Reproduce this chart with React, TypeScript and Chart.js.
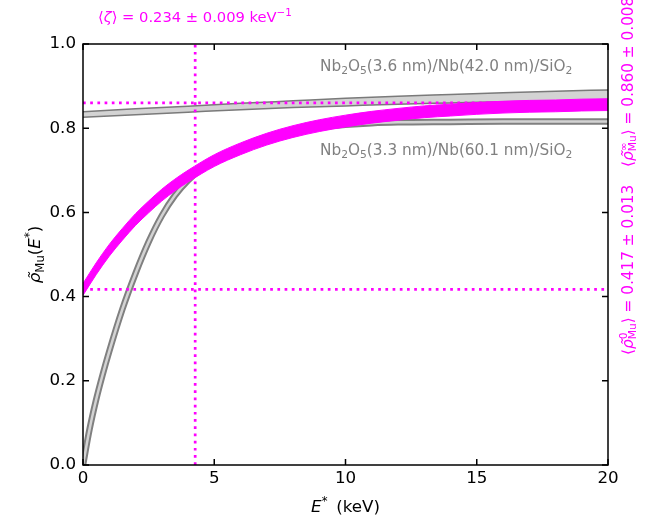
import React, { useEffect, useRef } from "react";
import { Chart, registerables } from "chart.js";

Chart.register(...registerables);

// Fitted muonium yield (band) versus implantation energy E* (keV)
const fitEnergy = [0, 0.5, 1, 1.5, 2, 2.5, 3, 3.5, 4, 5, 6, 7, 8, 9, 10, 11, 12, 13, 14, 15, 16, 17, 18, 19, 20];
const fitLow = [0.403, 0.452, 0.496, 0.534, 0.569, 0.599, 0.627, 0.651, 0.672, 0.709, 0.737, 0.76, 0.778, 0.792, 0.803, 0.812, 0.819, 0.825, 0.829, 0.833, 0.836, 0.838, 0.839, 0.841, 0.842];
const fitHigh = [0.431, 0.48, 0.524, 0.562, 0.597, 0.627, 0.655, 0.679, 0.7, 0.737, 0.765, 0.788, 0.806, 0.82, 0.831, 0.84, 0.847, 0.853, 0.857, 0.861, 0.864, 0.866, 0.867, 0.869, 0.87];

// Nb2O5(3.3 nm)/Nb(60.1 nm)/SiO2 sample
const thinEnergy = [0, 0.25, 0.5, 0.75, 1, 1.5, 2, 2.5, 3, 3.5, 4, 4.5, 5, 6, 7, 8, 9, 10, 11, 12, 14, 16, 18, 20];
const thinRho = [0, 0.085, 0.155, 0.215, 0.27, 0.37, 0.455, 0.53, 0.592, 0.64, 0.676, 0.703, 0.724, 0.754, 0.776, 0.792, 0.802, 0.808, 0.812, 0.814, 0.815, 0.816, 0.816, 0.816];

// Nb2O5(3.6 nm)/Nb(42.0 nm)/SiO2 sample (band)
const thickEnergy = [0, 2, 4, 6, 8, 10, 12, 14, 16, 18, 20];
const thickUpper = [0.839, 0.846, 0.852, 0.859, 0.865, 0.871, 0.876, 0.88, 0.884, 0.888, 0.891];
const thickLower = [0.826, 0.832, 0.838, 0.844, 0.849, 0.853, 0.857, 0.86, 0.863, 0.865, 0.867];

// Fit parameters
const zetaMean = 0.234;
const zetaErr = 0.009;
const rho0Mean = 0.417;
const rho0Err = 0.013;
const rhoInfMean = 0.86;
const rhoInfErr = 0.008;

const xTicks = [0, 5, 10, 15, 20];
const yTicks = [0, 0.2, 0.4, 0.6, 0.8, 1.0];

const sampleThick = ["Nb", "2", "O", "5", "(3.6 nm)/Nb(42.0 nm)/SiO", "2"];
const sampleThin = ["Nb", "2", "O", "5", "(3.3 nm)/Nb(60.1 nm)/SiO", "2"];

const FONT = '"DejaVu Sans", "Noto Sans", sans-serif';
const MAGENTA = "#ff00ff";
const GRAY = "#808080";
const LIGHT = "#d3d3d3";

type Seg = { t: string; s?: number; dy?: number; it?: boolean; hold?: boolean };

function drawRich(ctx: CanvasRenderingContext2D, segs: Seg[], x: number, y: number, size: number, color: string, draw = true) {
  ctx.save();
  ctx.fillStyle = color;
  ctx.textBaseline = "alphabetic";
  ctx.textAlign = "left";
  let cx = x;
  let held = 0;
  for (const g of segs) {
    const fs = size * (g.s ?? 1);
    ctx.font = `${g.it ? "italic " : ""}${fs}px ${FONT}`;
    if (draw) ctx.fillText(g.t, cx, y + (g.dy ?? 0) * size);
    const w = ctx.measureText(g.t).width;
    if (g.hold) held = Math.max(held, w);
    else {
      cx += Math.max(w, held);
      held = 0;
    }
  }
  ctx.restore();
  return cx - x;
}

function chemSegs(parts: string[]): Seg[] {
  return parts.map((t, i) => (i % 2 === 1 || i === parts.length - 1 ? { t, s: 0.7, dy: 0.18 } : { t }));
}

const f3 = (v: number) => v.toFixed(3);

const decorations = {
  id: "decorations",
  afterDatasetsDraw(chart: any) {
    const { ctx, chartArea: a, scales } = chart;
    const xs = scales.x;
    const ys = scales.y;
    ctx.save();
    ctx.strokeStyle = "#000";
    ctx.lineWidth = 1.5;
    ctx.strokeRect(a.left, a.top, a.right - a.left, a.bottom - a.top);
    ctx.beginPath();
    const tl = 6;
    for (const v of xTicks) {
      const px = xs.getPixelForValue(v);
      ctx.moveTo(px, a.bottom);
      ctx.lineTo(px, a.bottom - tl);
      ctx.moveTo(px, a.top);
      ctx.lineTo(px, a.top + tl);
    }
    for (const v of yTicks) {
      const py = ys.getPixelForValue(v);
      ctx.moveTo(a.left, py);
      ctx.lineTo(a.left + tl, py);
      ctx.moveTo(a.right, py);
      ctx.lineTo(a.right - tl, py);
    }
    ctx.stroke();
    ctx.restore();
  },
  afterDraw(chart: any) {
    const { ctx, chartArea: a, scales } = chart;
    const xs = scales.x;
    const ys = scales.y;
    const axisSize = 16.7;
    const noteSize = 15.3;

    // x axis title
    const xTitle: Seg[] = [{ t: "E", it: true }, { t: "*", s: 0.7, dy: -0.42 }, { t: "\u2009 (keV)" }];
    const xw = drawRich(ctx, xTitle, 0, 0, axisSize, "#000", false);
    drawRich(ctx, xTitle, (a.left + a.right) / 2 - xw / 2, 512, axisSize, "#000");

    // y axis title (rotated)
    const yTitle: Seg[] = [
      { t: "\u03c1\u0303", it: true },
      { t: "Mu", s: 0.7, dy: 0.22 },
      { t: "(" },
      { t: "E", it: true },
      { t: "*", s: 0.7, dy: -0.42 },
      { t: ")" },
    ];
    const yw = drawRich(ctx, yTitle, 0, 0, axisSize, "#000", false);
    ctx.save();
    ctx.translate(40, (a.top + a.bottom) / 2 + yw / 2);
    ctx.rotate(-Math.PI / 2);
    drawRich(ctx, yTitle, 0, 0, axisSize, "#000");
    ctx.restore();

    // decay constant
    const zetaText: Seg[] = [
      { t: "\u27e8" },
      { t: "\u03b6", it: true },
      { t: `\u27e9 = ${f3(zetaMean)} \u00b1 ${f3(zetaErr)} keV` },
      { t: "\u22121", s: 0.7, dy: -0.42 },
    ];
    drawRich(ctx, zetaText, 98, 22, 14.7, MAGENTA);

    // asymptotic and surface yields (rotated, right margin)
    const rhoText = (sup: string, mean: number, err: number): Seg[] => [
      { t: "\u27e8" },
      { t: "\u03c1\u0303", it: true },
      { t: sup, s: 0.7, dy: -0.42, hold: true },
      { t: "Mu", s: 0.7, dy: 0.22 },
      { t: `\u27e9 = ${f3(mean)} \u00b1 ${f3(err)}` },
    ];
    const drawRotated = (segs: Seg[], bx: number, by: number) => {
      ctx.save();
      ctx.translate(bx, by);
      ctx.rotate(-Math.PI / 2);
      drawRich(ctx, segs, 0, 0, noteSize, MAGENTA);
      ctx.restore();
    };
    drawRotated(rhoText("\u221e", rhoInfMean, rhoInfErr), 633, 167);
    drawRotated(rhoText("0", rho0Mean, rho0Err), 633, 355);

    // sample labels
    const lx = xs.getPixelForValue(9.03);
    drawRich(ctx, chemSegs(sampleThick), lx, ys.getPixelForValue(0.936), noteSize, GRAY);
    drawRich(ctx, chemSegs(sampleThin), lx, ys.getPixelForValue(0.736), noteSize, GRAY);
  },
};

const pts = (xs: number[], ys: number[]) => xs.map((x, i) => ({ x, y: ys[i] }));

export default function App() {
  const ref = useRef<HTMLCanvasElement | null>(null);

  useEffect(() => {
    if (!ref.current) return;
    const curve = { pointRadius: 0, cubicInterpolationMode: "monotone" as const, clip: 0 };
    const dotted = { pointRadius: 0, tension: 0, borderColor: MAGENTA, borderWidth: 2.7, borderDash: [2.7, 4.5], fill: false, clip: 0 };
    const vLine = 1 / zetaMean;

    const chart = new Chart(ref.current, {
      type: "line",
      data: {
        datasets: [
          { ...curve, data: pts(thickEnergy, thickUpper), borderColor: "#7a7a7a", borderWidth: 1.5, backgroundColor: LIGHT, fill: "+1", order: 10 },
          { ...curve, data: pts(thickEnergy, thickLower), borderColor: "#7a7a7a", borderWidth: 1.5, fill: false, order: 9 },
          { ...curve, data: pts(thinEnergy, thinRho), borderColor: GRAY, borderWidth: 6.5, fill: false, order: 8 },
          { ...curve, data: pts(thinEnergy, thinRho), borderColor: LIGHT, borderWidth: 2.5, fill: false, order: 7 },
          { ...curve, data: pts(fitEnergy, fitHigh), borderColor: MAGENTA, borderWidth: 1, backgroundColor: MAGENTA, fill: "+1", order: 6 },
          { ...curve, data: pts(fitEnergy, fitLow), borderColor: MAGENTA, borderWidth: 1, fill: false, order: 5 },
          { ...dotted, data: [{ x: 0, y: rhoInfMean }, { x: 20, y: rhoInfMean }], order: 3 },
          { ...dotted, data: [{ x: 0, y: rho0Mean }, { x: 20, y: rho0Mean }], order: 2 },
          { ...dotted, data: [{ x: vLine, y: 0 }, { x: vLine, y: 1 }], order: 1 },
        ],
      },
      options: {
        responsive: false,
        animation: false,
        devicePixelRatio: 1,
        events: [],
        layout: { padding: { top: 44, right: 54, left: 0, bottom: 0 } },
        plugins: { legend: { display: false }, tooltip: { enabled: false } },
        scales: {
          x: {
            type: "linear",
            min: 0,
            max: 20,
            afterFit: (s: any) => {
              s.height = 56;
            },
            grid: { display: false, drawTicks: false },
            border: { display: false },
            afterBuildTicks: (s: any) => {
              s.ticks = xTicks.map((v) => ({ value: v }));
            },
            ticks: {
              color: "#000",
              font: { family: FONT, size: 16.7 },
              padding: 4,
              maxRotation: 0,
              autoSkip: false,
              callback: (v: any) => String(v),
            },
          },
          y: {
            type: "linear",
            min: 0,
            max: 1,
            afterFit: (s: any) => {
              s.width = 83;
            },
            grid: { display: false, drawTicks: false },
            border: { display: false },
            afterBuildTicks: (s: any) => {
              s.ticks = yTicks.map((v) => ({ value: v }));
            },
            ticks: {
              color: "#000",
              font: { family: FONT, size: 16.7 },
              padding: 7,
              autoSkip: false,
              callback: (v: any) => Number(v).toFixed(1),
            },
          },
        },
      },
      plugins: [decorations],
    });
    return () => chart.destroy();
  }, []);

  return (
    <div style={{ position: "absolute", left: 0, top: 0, width: 662, height: 521, background: "#fff" }}>
      <canvas ref={ref} width={662} height={521} style={{ display: "block" }} />
    </div>
  );
}
